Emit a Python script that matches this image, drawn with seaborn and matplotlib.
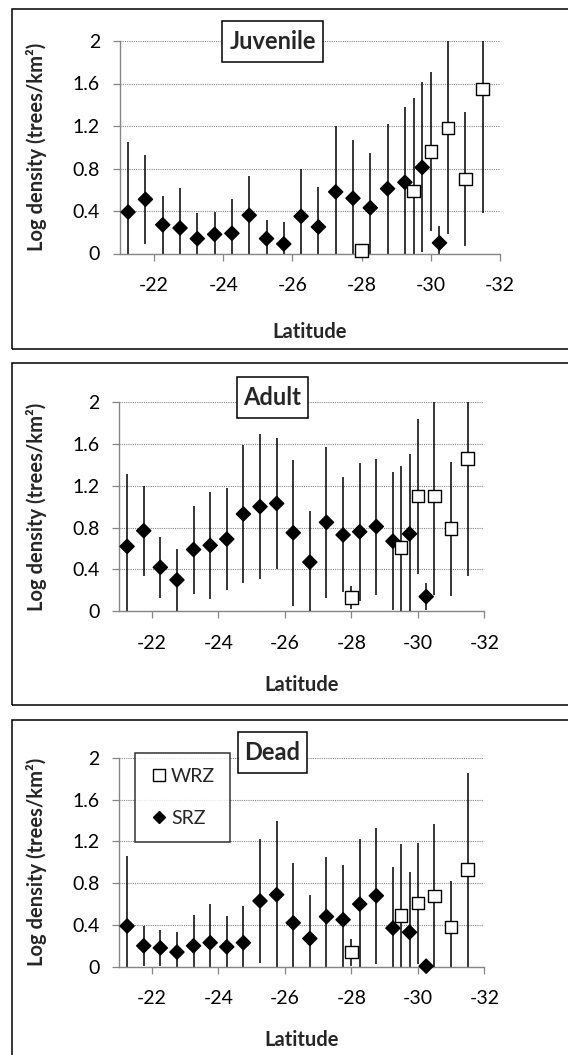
import matplotlib
matplotlib.use("Agg")
import matplotlib.pyplot as plt
from matplotlib.patches import Rectangle
from matplotlib.lines import Line2D
import seaborn as sns
import pandas as pd

# ---------------- data ----------------
lat_srz = [-21.25, -21.75, -22.25, -22.75, -23.25, -23.75, -24.25, -24.75, -25.25,
           -25.75, -26.25, -26.75, -27.25, -27.75, -28.25, -28.75, -29.25, -29.75, -30.25]
lat_wrz = [-28.0, -29.5, -30.0, -30.5, -31.0, -31.5]

juv_srz = [0.39, 0.51, 0.27, 0.24, 0.14, 0.18, 0.19, 0.36, 0.14, 0.09, 0.35, 0.25,
           0.58, 0.52, 0.43, 0.61, 0.67, 0.81, 0.10]
juv_srz_err = [0.66, 0.42, 0.27, 0.38, 0.24, 0.21, 0.32, 0.37, 0.18, 0.21, 0.45, 0.38,
               0.62, 0.55, 0.52, 0.61, 0.71, 0.80, 0.16]
juv_wrz = [0.03, 0.59, 0.96, 1.18, 0.70, 1.55]
juv_wrz_err = [0.02, 0.87, 0.75, 1.00, 0.63, 1.17]

adult_srz = [0.62, 0.77, 0.42, 0.30, 0.59, 0.63, 0.69, 0.93, 1.00, 1.03, 0.75, 0.47,
             0.85, 0.73, 0.76, 0.81, 0.67, 0.74, 0.14]
adult_srz_err = [0.69, 0.43, 0.29, 0.30, 0.42, 0.51, 0.49, 0.66, 0.69, 0.63, 0.70, 0.49,
                 0.72, 0.55, 0.66, 0.65, 0.66, 0.76, 0.13]
adult_wrz = [0.13, 0.61, 1.10, 1.10, 0.79, 1.46]
adult_wrz_err = [0.11, 0.78, 0.74, 0.94, 0.64, 1.12]

dead_srz = [0.39, 0.20, 0.18, 0.14, 0.20, 0.23, 0.19, 0.23, 0.63, 0.69, 0.42, 0.27,
            0.48, 0.45, 0.60, 0.68, 0.37, 0.33, 0.005]
dead_srz_err = [0.67, 0.19, 0.17, 0.19, 0.30, 0.37, 0.30, 0.35, 0.59, 0.71, 0.57, 0.42,
                0.57, 0.52, 0.62, 0.65, 0.59, 0.58, 0.0]
dead_wrz = [0.14, 0.49, 0.61, 0.68, 0.38, 0.93]
dead_wrz_err = [0.13, 0.69, 0.58, 0.69, 0.44, 0.93]

panel_titles = ["Juvenile", "Adult", "Dead"]
zones = ["WRZ", "SRZ"]
x_ticks = [-22, -24, -26, -28, -30, -32]
y_ticks = [0, 0.4, 0.8, 1.2, 1.6, 2]
y_ticklabels = ["0", "0.4", "0.8", "1.2", "1.6", "2"]
x_label = "Latitude"
y_label = "Log density (trees/km²)"

# ---------------- style ----------------
sns.set_style("white")
plt.rcParams["font.family"] = ["Lato", "DejaVu Sans"]

W, H = 568, 1055
fig = plt.figure(figsize=(W / 100, H / 100), dpi=100)

GREY = "#868686"

def fx(px):
    return px / W

def fy(py):
    return 1 - py / H

panels = [
    dict(l=119.5, r=500, y0=253.5, y2=41, ft=9, fb=349, box=(222, 323.3, 21, 62),
         xl=332, ylx=36.7),
    dict(l=118.8, r=484.3, y0=611.3, y2=402, ft=363, fb=705, box=(236.7, 308.3, 377, 418),
         xl=685, ylx=36.7),
    dict(l=118.8, r=484.3, y0=966.7, y2=758, ft=720, fb=1070, box=(237.7, 306.7, 732, 773),
         xl=1040, ylx=36.7),
]

datasets = [
    (juv_srz, juv_srz_err, juv_wrz, juv_wrz_err),
    (adult_srz, adult_srz_err, adult_wrz, adult_wrz_err),
    (dead_srz, dead_srz_err, dead_wrz, dead_wrz_err),
]

for i, (p, d, title) in enumerate(zip(panels, datasets, panel_titles)):
    frame = Rectangle((fx(12), fy(p["fb"])), 1.2, fy(p["ft"]) - fy(p["fb"]),
                      transform=fig.transFigure, facecolor="none",
                      edgecolor="black", linewidth=1.1, zorder=-10)
    fig.add_artist(frame)
    ax = fig.add_axes([fx(p["l"]), fy(p["y0"]), fx(p["r"] - p["l"]), (p["y0"] - p["y2"]) / H])
    ax.set_facecolor("none")
    ax.set_zorder(1)

    s_val, s_err, w_val, w_err = d
    df = pd.DataFrame({
        "lat": lat_srz + lat_wrz,
        "val": s_val + w_val,
        "err": s_err + w_err,
        "zone": ["SRZ"] * len(lat_srz) + ["WRZ"] * len(lat_wrz),
    })

    ax.errorbar(df["lat"], df["val"], yerr=df["err"], fmt="none", ecolor="black",
                elinewidth=1.1, capsize=0, zorder=2)
    sns.scatterplot(data=df, x="lat", y="val", hue="zone", style="zone", size="zone",
                    markers={"SRZ": "D", "WRZ": "s"},
                    palette={"SRZ": "black", "WRZ": "white"},
                    sizes={"SRZ": 52, "WRZ": 80},
                    edgecolor="black", linewidth=1.0, legend=False, ax=ax,
                    zorder=3, clip_on=False)

    ax.set_xlim(-21, -32)
    ax.set_ylim(0, 2)
    ax.set_xticks(x_ticks)
    ax.set_xticklabels([str(t) for t in x_ticks])
    ax.set_yticks(y_ticks)
    ax.set_yticklabels(y_ticklabels)
    ax.grid(axis="y", color=GREY, linestyle=(0, (1, 1)), linewidth=0.8)
    ax.grid(axis="x", visible=False)
    for side in ["top", "right"]:
        ax.spines[side].set_visible(False)
    for side in ["left", "bottom"]:
        ax.spines[side].set_color(GREY)
        ax.spines[side].set_linewidth(1.0)
    ax.tick_params(axis="x", direction="out", length=5, width=0.9, color=GREY,
                   labelsize=14, pad=12, labelcolor="black", bottom=True)
    ax.tick_params(axis="y", direction="out", length=5, width=0.9, color=GREY,
                   labelsize=14, pad=9, labelcolor="black", left=True)

    hgt = p["y0"] - p["y2"]
    wid = p["r"] - p["l"]
    ax.set_xlabel(x_label, fontsize=14.5, fontweight="bold")
    ax.xaxis.label.set_verticalalignment("center")
    ax.xaxis.set_label_coords(0.5, (p["y0"] - p["xl"]) / hgt)
    ax.set_ylabel(y_label, fontsize=14.5, fontweight="bold")
    ax.yaxis.label.set_verticalalignment("center")
    ax.yaxis.set_label_coords((p["ylx"] - p["l"]) / wid, 0.5)

    bl, br, bt, bb = p["box"]
    ax.add_patch(Rectangle(((bl - p["l"]) / wid, (p["y0"] - bb) / hgt),
                           (br - bl) / wid, (bb - bt) / hgt, transform=ax.transAxes,
                           facecolor="white", edgecolor="black", linewidth=1.1,
                           clip_on=False, zorder=5))
    ax.text(((bl + br) / 2 - p["l"]) / wid, (p["y0"] - (bt + bb) / 2) / hgt, title,
            transform=ax.transAxes, ha="center", va="center", fontsize=17,
            fontweight="bold", zorder=6)

    if i == 2:
        handles = [
            Line2D([], [], linestyle="none", marker="s", markersize=8,
                   markerfacecolor="white", markeredgecolor="black", markeredgewidth=1.0),
            Line2D([], [], linestyle="none", marker="D", markersize=6.5,
                   markerfacecolor="black", markeredgecolor="black"),
        ]
        leg = ax.legend(handles, zones, loc="upper left",
                        bbox_to_anchor=((135 - p["l"]) / wid, (p["y0"] - 753) / hgt),
                        frameon=True, fancybox=False, fontsize=14, handlelength=0.93,
                        handletextpad=0.15, labelspacing=1.3, borderpad=0.77,
                        borderaxespad=0)
        leg.get_frame().set_edgecolor("black")
        leg.get_frame().set_linewidth(1.1)
        leg.set_zorder(6)

fig.savefig("out.png", dpi=100)
